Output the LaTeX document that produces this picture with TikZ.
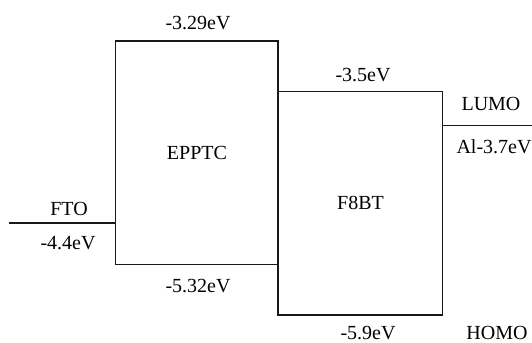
\documentclass[tikz,border=0pt]{standalone}
\usepackage{fontspec}
\setmainfont{Liberation Serif}
\usetikzlibrary{positioning}

\tikzset{
  band/.style={draw=black!90, line width=0.8pt, inner sep=0pt, outer sep=0pt,
               font=\fontsize{10}{12}\selectfont},
  lbl/.style={inner sep=0pt, font=\fontsize{10}{12}\selectfont},
}

\begin{document}
\begin{tikzpicture}[x=0.5pt, y=-0.5pt]
    \useasboundingbox (0,0) rectangle (532,343);
    % bands
    \node[band, minimum width=81.3pt, minimum height=111.8pt] (epptc) at (197,152.5) {EPPTC};
    \node[band, minimum width=82.2pt, minimum height=111.65pt] (f8bt) at (360.5,203.3) {F8BT};
    % electrodes
    \coordinate (fto) at (9,222.7);
    \coordinate (al) at (532,125.3);
    \draw[line width=0.8pt, black!90] (fto) -- (fto -| epptc.west);
    \draw[line width=0.8pt, black!90] (f8bt.east |- al) -- (al);
    % energy values
    \node[lbl] (eppLumo) at (198,23) {-3.29eV};
    \node[lbl] (eppHomo) at (198,286) {-5.32eV};
    \node[lbl] (f8Lumo) at (363,75) {-3.5eV};
    \node[lbl] (f8Homo) at (368,333) {-5.9eV};
    \node[lbl] (ftoName) at (69,209) {FTO};
    \node[lbl] (ftoVal) at (68,243) {-4.4eV};
    \node[lbl] (lumo) at (491,104) {LUMO};
    \node[lbl] (alVal) at (494,147) {Al-3.7eV};
    \node[lbl] (homo) at (497,333) {HOMO};
\end{tikzpicture}
\end{document}
